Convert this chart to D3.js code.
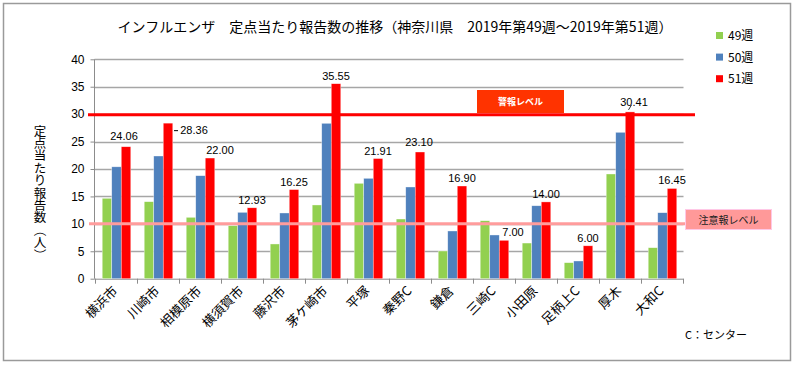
<!DOCTYPE html>
<html><head><meta charset="utf-8">
<script src="https://cdn.jsdelivr.net/npm/d3@7"></script>
<style>body{margin:0;background:#fff}svg{display:block}</style>
</head><body>
<svg id="c" width="795" height="366"></svg>
<script>
const categories = ["横浜市","川崎市","相模原市","横須賀市","藤沢市","茅ケ崎市","平塚","秦野C","鎌倉","三崎C","小田原","足柄上C","厚木","大和C"];
const seriesNames = ["49週","50週","51週"];
const week49 = [14.66,14.04,11.19,9.66,6.33,13.44,17.39,10.88,5.05,10.57,6.5,2.92,19.09,5.65];
const week50 = [20.4,22.37,18.78,12.1,11.98,28.33,18.3,16.72,8.7,7.97,13.3,3.23,26.69,12.03];
const week51 = [24.06,28.36,22.00,12.93,16.25,35.55,21.91,23.10,16.90,7.00,14.00,6.00,30.41,16.45];
const yTicks = [0,5,10,15,20,25,30,35,40];
const alarmLevel = 30;
const warnLevel = 10;
const titleText = "インフルエンザ　定点当たり報告数の推移（神奈川県　2019年第49週～2019年第51週）";
const yTitle = "定点当たり報告数（人）";

const colors = ["#92D050","#4F81BD","#FF0000"];
const seriesValues = [week49, week50, week51];
const JP = "'Noto Sans CJK JP','Noto Sans',sans-serif";
const NUM = "'Liberation Sans',Arial,sans-serif";

const svg = d3.select("#c");
svg.append("rect").attr("x",3.5).attr("y",3.5).attr("width",787).attr("height",357)
  .attr("fill","#fff").attr("stroke","#9a9a9a").attr("stroke-width",1.5);

const x0 = d3.scaleBand().domain(categories).range([95.5,683.5]).padding(0);
const x1 = d3.scaleBand().domain(seriesNames).range([x0.bandwidth()*0.16, x0.bandwidth()*0.84]);
const y = d3.scaleLinear().domain([0,40]).range([278.7,59.3]);

// gridlines
svg.append("g").selectAll("line").data(yTicks.filter(t=>t>0)).join("line")
  .attr("x1",94.5).attr("x2",683.5).attr("y1",d=>Math.round(y(d))+0.5).attr("y2",d=>Math.round(y(d))+0.5)
  .attr("stroke","#a6a6a6").attr("stroke-width",1.5);

// y axis
const yAxis = svg.append("g").attr("transform","translate(94.5,0)")
  .call(d3.axisLeft(y).tickValues(yTicks).tickSize(4).tickPadding(6));
yAxis.select(".domain").attr("stroke","#8c8c8c").attr("d","M0,"+y(40)+"V"+y(0));
yAxis.selectAll(".tick line").attr("stroke","#8c8c8c");
yAxis.selectAll("text").attr("font-family",NUM).attr("font-size",12).attr("fill","#000");

// x axis
const xAxis = svg.append("g").attr("transform","translate(0,"+y(0)+")");
xAxis.append("line").attr("x1",94.5).attr("x2",683.5).attr("y1",0.5).attr("y2",0.5).attr("stroke","#8c8c8c");
const bounds = categories.map(c=>x0(c)).concat([x0.range()[1]]);
xAxis.selectAll("line.tk").data(bounds).join("line").attr("class","tk")
  .attr("x1",d=>d).attr("x2",d=>d).attr("y1",0).attr("y2",5).attr("stroke","#8c8c8c");
xAxis.selectAll("text").data(categories).join("text")
  .attr("transform",d=>"translate("+(x0(d)+x0.bandwidth()/2+2)+",13) rotate(-45)")
  .attr("text-anchor","end").attr("font-family",JP).attr("font-size",13).attr("fill","#000").text(d=>d);

// bars
const groups = svg.append("g").selectAll("g").data(categories).join("g")
  .attr("transform",d=>"translate("+x0(d)+",0)");
groups.selectAll("rect").data((d,i)=>seriesNames.map((s,j)=>({s,j,v:seriesValues[j][i]}))).join("rect")
  .attr("x",d=>x1(d.s)).attr("width",x1.bandwidth())
  .attr("y",d=>y(d.v)).attr("height",d=>y(0)-y(d.v))
  .attr("fill",d=>colors[d.j]).attr("stroke","rgba(255,255,255,0.6)").attr("stroke-width",0.6);

// level lines
svg.append("line").attr("x1",88).attr("x2",695).attr("y1",y(alarmLevel)+0.5).attr("y2",y(alarmLevel)+0.5)
  .attr("stroke","#FF0000").attr("stroke-width",3);
svg.append("line").attr("x1",89).attr("x2",686).attr("y1",y(warnLevel)).attr("y2",y(warnLevel))
  .attr("stroke","#FF9C9C").attr("stroke-width",3);

// alarm label box
svg.append("rect").attr("x",477).attr("y",90).attr("width",87).attr("height",23).attr("fill","#FF3300");
svg.append("text").attr("x",520.5).attr("y",105).attr("text-anchor","middle").attr("font-family",JP)
  .attr("font-size",9).attr("font-weight","bold").attr("fill","#fff").text("警報レベル");
// warning label box
svg.append("rect").attr("x",685.5).attr("y",209.5).attr("width",86).attr("height",20)
  .attr("fill","#FF9999").attr("stroke","#FFC8E6").attr("stroke-width",1);
svg.append("text").attr("x",728.5).attr("y",223.5).attr("text-anchor","middle").attr("font-family",JP)
  .attr("font-size",10).attr("fill","#222").text("注意報レベル");

// data labels on week 51
const nudge = {1:[26,15],2:[10,0],9:[9,0],12:[4,-2],0:[-2,-3],7:[-1,-2]};
const redX = i => x0(categories[i]) + x1("51週") + x1.bandwidth()/2;
svg.append("g").selectAll("text").data(week51).join("text")
  .attr("x",(d,i)=>redX(i)+((nudge[i]||[0,0])[0]))
  .attr("y",(d,i)=>y(d)-4+((nudge[i]||[0,0])[1]))
  .attr("text-anchor","middle").attr("font-family",NUM).attr("font-size",11).attr("fill","#000")
  .text(d=>d.toFixed(2));
// leader lines
svg.append("line").attr("x1",redX(1)+6).attr("x2",redX(1)+10).attr("y1",y(week51[1])+7.5).attr("y2",y(week51[1])+7.5)
  .attr("stroke","#000").attr("stroke-width",1);
svg.append("line").attr("x1",redX(12)-1.5).attr("x2",redX(12)+1.5).attr("y1",y(week51[12])-2).attr("y2",y(week51[12])-7)
  .attr("stroke","#000").attr("stroke-width",0.8);

// title
svg.append("text").attr("x",395).attr("y",32).attr("text-anchor","middle").attr("font-family",JP)
  .attr("font-size",14).attr("fill","#000").text(titleText);

// y title vertical: one text element, glyphs placed by x/y/rotate lists
const ytChars = Array.from(yTitle);
const fs = 12.5, ytStep = 12.4, ytTop = 131, ytX = 40;
const isParen = c => (c==="（"||c==="）");
const xs = ytChars.map(c => isParen(c) ? ytX - 0.38*fs : ytX - fs/2);
const ys = ytChars.map((c,i) => isParen(c) ? ytTop + i*ytStep - fs/2 : ytTop + i*ytStep + 0.36*fs);
const rs = ytChars.map(c => isParen(c) ? 90 : 0);
svg.append("text").attr("font-family",JP).attr("font-size",fs).attr("fill","#000")
  .attr("x",xs.join(" ")).attr("y",ys.join(" ")).attr("rotate",rs.join(" "))
  .text(yTitle);

// legend
const lg = svg.append("g").selectAll("g").data(seriesNames).join("g")
  .attr("transform",(d,i)=>"translate(716,"+(32+i*21.6)+")");
lg.append("rect").attr("width",7).attr("height",7).attr("fill",(d,i)=>colors[i]);
lg.append("text").attr("x",12).attr("y",8).attr("font-family",JP).attr("font-size",12).attr("fill","#000").text(d=>d);

// footnote
svg.append("text").attr("x",685).attr("y",339).attr("font-family",JP).attr("font-size",11).attr("fill","#000").text("C：センター");
</script>
</body></html>
